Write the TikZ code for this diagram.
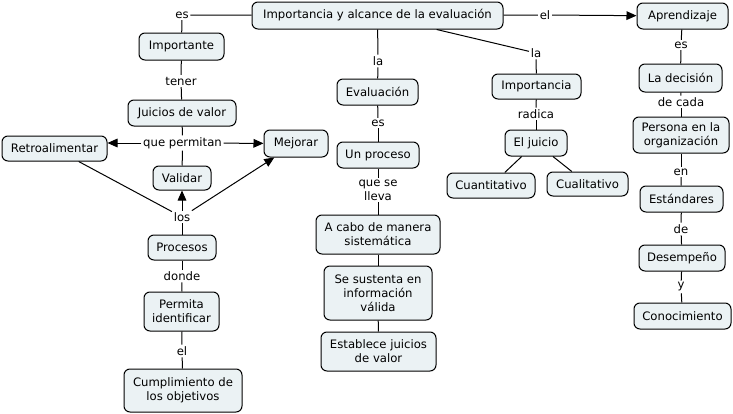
\documentclass[tikz,border=0pt]{standalone}
\usepackage{fontspec}
\setmainfont{DejaVu Sans}
\usetikzlibrary{arrows.meta}
\definecolor{boxfill}{HTML}{EBF2F4}
\tikzset{
  cbox/.style={draw=black, line width=0.75pt, fill=boxfill, rounded corners=4.5pt,
    inner sep=0pt, align=center, font=\fontsize{8.75}{10.5}\selectfont},
  wh/.style 2 args={minimum width=#1*0.75pt, minimum height=#2*0.75pt},
  lbl/.style={inner sep=1.2pt, align=center, font=\fontsize{8.75}{10.5}\selectfont},
  conn/.style={line width=0.75pt},
  arr/.style={line width=0.75pt, -{Triangle[length=7.5pt,width=6.5pt]}}
}
\begin{document}
\begin{tikzpicture}[x=0.75pt,y=-0.75pt]
\useasboundingbox (0,0) rectangle (733,414);
% concept boxes
\node[cbox,wh={251}{27}] (main) at (377.5,15.5) {Importancia y alcance de la evaluación};
\node[cbox,wh={85}{27}] (importante) at (181.5,46.5) {Importante};
\node[cbox,wh={108}{26}] (juicios) at (182,113) {Juicios de valor};
\node[cbox,wh={105}{25}] (retro) at (54.5,148.5) {Retroalimentar};
\node[cbox,wh={64}{27}] (mejorar) at (296,143.5) {Mejorar};
\node[cbox,wh={58}{24}] (validar) at (182,178) {Validar};
\node[cbox,wh={68}{25}] (procesos) at (182,247.5) {Procesos};
\node[cbox,wh={75}{39}] (permita) at (181.5,311.5) {Permita\\identificar};
\node[cbox,wh={118}{43}] (cumpl) at (183,390.5) {Cumplimiento de\\los objetivos};
\node[cbox,wh={81}{26}] (evaluacion) at (377.5,92) {Evaluación};
\node[cbox,wh={82}{26}] (unproceso) at (378,155) {Un proceso};
\node[cbox,wh={124}{39}] (acabo) at (378,234.5) {A cabo de manera\\sistemática};
\node[cbox,wh={108}{54}] (sustenta) at (378,293) {Se sustenta en\\información\\válida};
\node[cbox,wh={115}{39}] (establece) at (378.5,351.5) {Establece juicios\\de valor};
\node[cbox,wh={89}{25}] (importancia) at (536.5,86.5) {Importancia};
\node[cbox,wh={62}{26}] (eljuicio) at (536,143) {El juicio};
\node[cbox,wh={88}{25}] (cuanti) at (491,185.5) {Cuantitativo};
\node[cbox,wh={81}{24}] (cuali) at (587.5,184) {Cualitativo};
\node[cbox,wh={91}{26}] (aprend) at (682.5,16) {Aprendizaje};
\node[cbox,wh={83}{28}] (decision) at (680.5,78) {La decisión};
\node[cbox,wh={96}{36}] (persona) at (681,135) {Persona en la\\organización};
\node[cbox,wh={83}{26}] (estandares) at (681.5,199) {Estándares};
\node[cbox,wh={86}{26}] (desempeno) at (682,258) {Desempeño};
\node[cbox,wh={97}{26}] (conoc) at (682.5,316) {Conocimiento};
% linking phrases
\node[lbl] (es1) at (182,15) {es};
\node[lbl] (tener) at (181,81) {tener};
\node[lbl] (qp) at (182.5,143) {que permitan};
\node[lbl] (los) at (182,217) {los};
\node[lbl] (donde) at (182,276) {donde};
\node[lbl] (el1) at (182,351) {el};
\node[lbl] (la1) at (378,61) {la};
\node[lbl] (es2) at (378,123) {es};
\node[lbl] (qsl) at (378,190) {que se\\lleva};
\node[lbl] (la2) at (536,53) {la};
\node[lbl] (radica) at (536,114) {radica};
\node[lbl] (el2) at (545,15) {el};
\node[lbl] (es3) at (681,45) {es};
\node[lbl] (decada) at (681,102) {de cada};
\node[lbl] (en) at (681,172) {en};
\node[lbl] (de) at (681,229) {de};
\node[lbl] (y) at (681,287) {y};
% connectors: left branch
\draw[conn] (main) -- (es1);
\draw[conn] (es1) -- (importante);
\draw[conn] (importante) -- (tener);
\draw[conn] (tener) -- (juicios);
\draw[conn] (juicios) -- (qp);
\draw[arr] (qp) -- (qp -| retro.east);
\draw[arr] (qp) -- (mejorar);
\draw[conn] (qp) -- (validar);
\draw[conn] (procesos) -- (los);
\draw[arr] (los) -- (validar);
\draw[arr] (los) -- (mejorar);
\draw[conn] (los) -- (retro);
\draw[conn] (procesos) -- (donde);
\draw[conn] (donde) -- (permita);
\draw[conn] (permita) -- (el1);
\draw[conn] (el1) -- (cumpl);
% middle branch
\draw[conn] (main) -- (la1);
\draw[conn] (la1) -- (evaluacion);
\draw[conn] (evaluacion) -- (es2);
\draw[conn] (es2) -- (unproceso);
\draw[conn] (unproceso) -- (qsl);
\draw[conn] (qsl) -- (acabo);
\draw[conn] (acabo) -- (sustenta);
\draw[conn] (sustenta) -- (establece);
% right-middle branch
\draw[conn] (main) -- (la2);
\draw[conn] (la2) -- (importancia);
\draw[conn] (importancia) -- (radica);
\draw[conn] (radica) -- (eljuicio);
\draw[conn] (eljuicio) -- (cuanti);
\draw[conn] (eljuicio) -- (cuali);
% right branch
\draw[conn] (main) -- (el2);
\draw[arr] (el2) -- (aprend);
\draw[conn] (aprend) -- (es3);
\draw[conn] (es3) -- (decision);
\draw[conn] (decision) -- (decada);
\draw[conn] (decada) -- (persona);
\draw[conn] (persona) -- (en);
\draw[conn] (en) -- (estandares);
\draw[conn] (estandares) -- (de);
\draw[conn] (de) -- (desempeno);
\draw[conn] (desempeno) -- (y);
\draw[conn] (y) -- (conoc);
\end{tikzpicture}
\end{document}
